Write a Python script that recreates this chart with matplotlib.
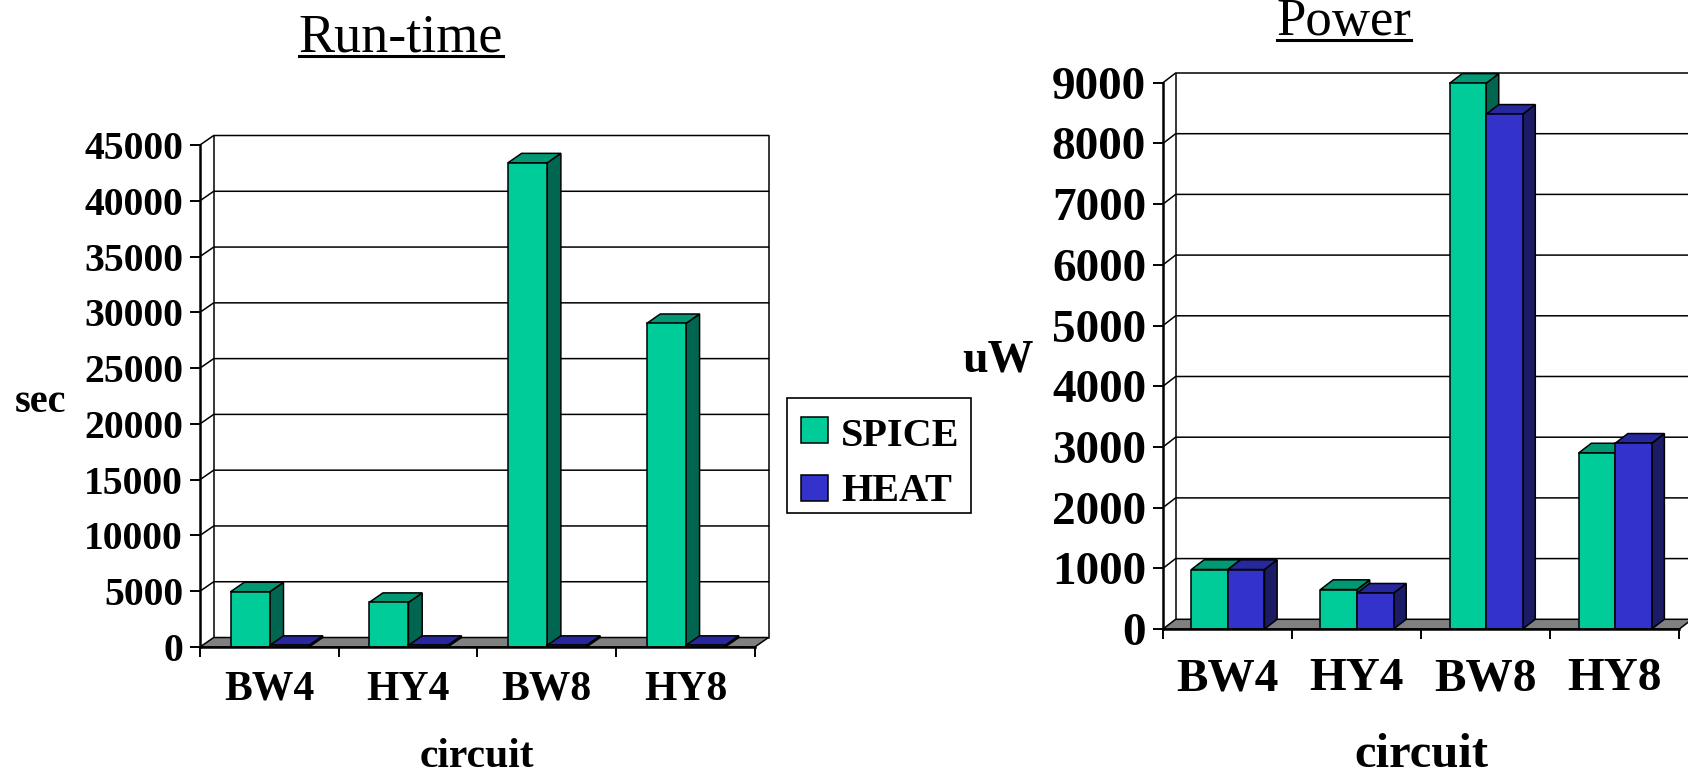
import matplotlib

matplotlib.use("Agg")
import matplotlib.pyplot as plt
from matplotlib.lines import Line2D
from matplotlib.patches import Polygon, Rectangle

W, H = 1688, 778

circuits = ["BW4", "HY4", "BW8", "HY8"]
series_names = ["SPICE", "HEAT"]
runtime_spice = [4950, 4000, 43400, 29000]
runtime_heat = [150, 150, 150, 150]
power_spice = [980, 650, 8990, 2900]
power_heat = [980, 590, 8480, 3060]
runtime_ticks = [0, 5000, 10000, 15000, 20000, 25000, 30000, 35000, 40000, 45000]
power_ticks = [0, 1000, 2000, 3000, 4000, 5000, 6000, 7000, 8000, 9000]

FRONT = {"SPICE": "#00CC99", "HEAT": "#3333CC"}
TOP = {"SPICE": "#009973", "HEAT": "#27279E"}
SIDE = {"SPICE": "#006650", "HEAT": "#1C1C66"}
FLOOR = "#808080"

plt.rcParams["font.family"] = ["Liberation Serif", "DejaVu Serif"]


def fig_xy(x, y):
    """Pixel position (top-left origin) -> figure fraction."""
    return x / W, 1 - y / H


def panel_axes(fig, left, bottom, width, height):
    return fig.add_axes([left / W, 1 - bottom / H, width / W, height / H])


def draw_panel(ax, spice, heat, ticks, ddx, ddy, tick_size, cat_size, cat_pad):
    n = len(circuits)
    ymax = ticks[-1]
    ax.set_xlim(0, n + ddx)
    ax.set_ylim(0, ymax + ddy)
    ax.set_facecolor("none")
    lw_grid, lw_axis = 1.1, 1.8

    # back wall + side wall grid lines
    for v in ticks[1:]:
        ax.add_line(Line2D([0, ddx, n + ddx], [v, v + ddy, v + ddy],
                           color="black", lw=lw_grid, clip_on=False, zorder=1))
    ax.add_line(Line2D([ddx, ddx], [ddy, ymax + ddy], color="black", lw=lw_grid, zorder=1))
    ax.add_line(Line2D([n + ddx, n + ddx], [ddy, ymax + ddy], color="black",
                       lw=lw_grid, clip_on=False, zorder=1))

    # floor
    ax.add_patch(Polygon([(0, 0), (n, 0), (n + ddx, ddy), (ddx, ddy)], closed=True,
                         facecolor=FLOOR, edgecolor="black", lw=lw_grid,
                         clip_on=False, zorder=2))

    # 3-D bars: side, top, then front face
    width, start = 0.283, 0.22
    for i in range(n):
        for k, (name, vals) in enumerate(zip(series_names, [spice, heat])):
            x0 = i + start + k * width
            v = vals[i]
            ax.add_patch(Polygon([(x0 + width, 0), (x0 + width + ddx, ddy),
                                  (x0 + width + ddx, v + ddy), (x0 + width, v)],
                                 facecolor=SIDE[name], edgecolor="black", lw=1.1,
                                 clip_on=False, zorder=3))
            ax.add_patch(Polygon([(x0, v), (x0 + width, v), (x0 + width + ddx, v + ddy),
                                  (x0 + ddx, v + ddy)],
                                 facecolor=TOP[name], edgecolor="black", lw=1.1,
                                 clip_on=False, zorder=3))
            ax.add_patch(Rectangle((x0, 0), width, v, facecolor=FRONT[name],
                                   edgecolor="black", lw=1.1, clip_on=False, zorder=3))

    for side in ["top", "right"]:
        ax.spines[side].set_visible(False)
    ax.spines["left"].set_bounds(0, ymax)
    ax.spines["bottom"].set_bounds(0, n)
    for side in ["left", "bottom"]:
        ax.spines[side].set_linewidth(lw_axis)
        ax.spines[side].set_zorder(4)

    ax.set_yticks(ticks)
    ax.set_yticklabels([str(t) for t in ticks], fontsize=tick_size, fontweight="bold")
    ax.tick_params(axis="y", direction="out", length=7.2, width=1.4, pad=5)
    ax.set_xticks(range(n + 1))
    ax.set_xticklabels([])
    ax.tick_params(axis="x", which="major", direction="out", length=7.2, width=1.4)
    ax.set_xticks([i + 0.5 for i in range(n)], minor=True)
    ax.set_xticklabels(circuits, minor=True, fontsize=cat_size, fontweight="bold")
    ax.tick_params(axis="x", which="minor", length=0, pad=cat_pad)


fig = plt.figure(figsize=(W / 100, H / 100), dpi=100)

ax_rt = panel_axes(fig, 200, 647, 568.5, 511.5)
draw_panel(ax_rt, runtime_spice, runtime_heat, runtime_ticks, 0.099, 850,
           tick_size=28.5, cat_size=30, cat_pad=17)

ax_pw = panel_axes(fig, 1163, 629, 529, 556)
draw_panel(ax_pw, power_spice, power_heat, power_ticks, 0.098, 160,
           tick_size=34, cat_size=34, cat_pad=21)

# titles, axis labels
titles = [
    fig.text(*fig_xy(401, 51), "Run-time", fontsize=39, ha="center", va="baseline"),
    fig.text(*fig_xy(1344, 35), "Power", fontsize=38, ha="center", va="baseline"),
]
fig.text(*fig_xy(41, 403), "sec", fontsize=29, fontweight="bold", ha="center", va="center")
fig.text(*fig_xy(998, 360), "uW", fontsize=33, fontweight="bold", ha="center", va="center")
fig.text(*fig_xy(477, 767), "circuit", fontsize=30, fontweight="bold", ha="center", va="baseline")
fig.text(*fig_xy(1421, 767), "circuit", fontsize=35, fontweight="bold", ha="center", va="baseline")

# legend box
bx0, by0 = fig_xy(787, 513)
bx1, by1 = fig_xy(971, 398)
fig.add_artist(Rectangle((bx0, by0), bx1 - bx0, by1 - by0, transform=fig.transFigure,
                         facecolor="white", edgecolor="black", lw=1.2))
for name, top_px, base_px in [("SPICE", 417, 446), ("HEAT", 475, 501)]:
    sx, sy = fig_xy(801, top_px + 26)
    fig.add_artist(Rectangle((sx, sy), 27 / W, 26 / H, transform=fig.transFigure,
                             facecolor=FRONT[name], edgecolor="black", lw=1.1))
    fig.text(*fig_xy(841, base_px), name, fontsize=29, fontweight="bold",
             ha="left", va="baseline")

# underline the titles
fig.canvas.draw()
renderer = fig.canvas.get_renderer()
for t in titles:
    bb = t.get_window_extent(renderer)
    _, base = t.get_position()
    y = base * H - 5
    fig.add_artist(Line2D([bb.x0 / W, bb.x1 / W], [y / H, y / H],
                          transform=fig.transFigure, color="black", lw=2.2))

fig.savefig("out.png", dpi=100)
